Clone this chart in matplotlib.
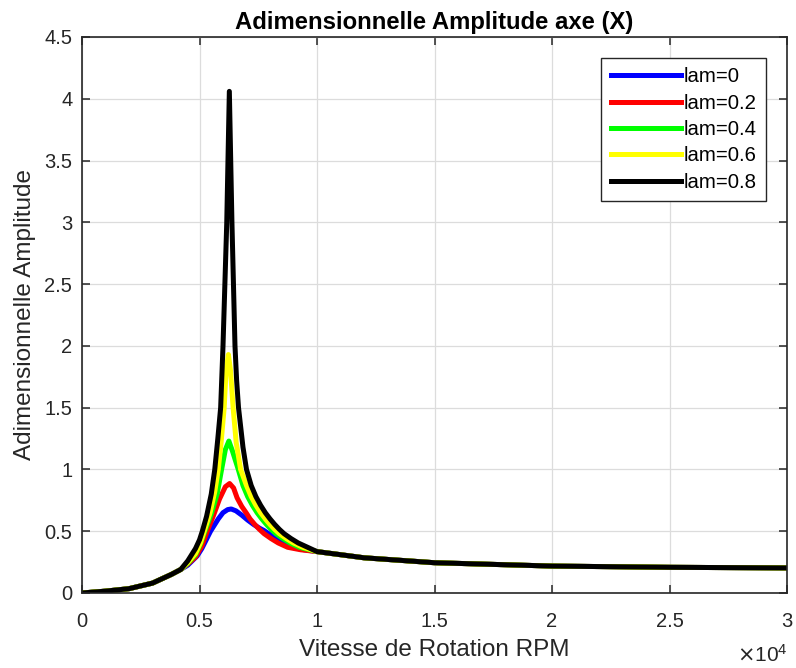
import matplotlib
matplotlib.use("Agg")
import matplotlib.pyplot as plt
from matplotlib.ticker import FuncFormatter, MultipleLocator

# shared low-speed part (all curves overlap here)
rpm_left = [0, 1000, 2000, 3000, 3800, 4200]
amp_left = [0.0, 0.015, 0.035, 0.08, 0.15, 0.19]

# shared high-speed tail
rpm_tail = [10000, 12000, 15000, 20000, 25000, 30000]
amp_tail = [0.335, 0.285, 0.245, 0.218, 0.208, 0.203]

# resonance region, one pair per lam value
rpm_lam0 = [4500, 4900, 5100, 5470, 5800, 6000, 6200, 6350, 6550, 6800, 7050, 7300, 7550, 7750, 7950, 8250,
            8550, 8950, 9450]
amp_lam0 = [0.225, 0.30, 0.36, 0.50, 0.60, 0.65, 0.675, 0.68, 0.665, 0.63, 0.59, 0.555, 0.525, 0.505, 0.48, 0.44,
            0.405, 0.37, 0.35]

rpm_lam02 = [4500, 4830, 5100, 5330, 5600, 5850, 6100, 6280, 6450, 6600, 6800, 7000, 7150, 7350, 7550, 7750,
             8050, 8350, 8750, 9300]
amp_lam02 = [0.235, 0.29, 0.38, 0.50, 0.63, 0.76, 0.86, 0.886, 0.85, 0.77, 0.70, 0.645, 0.60, 0.555, 0.515, 0.48,
             0.44, 0.405, 0.37, 0.35]

rpm_lam04 = [4500, 4830, 5050, 5230, 5500, 5750, 5940, 6100, 6250, 6400, 6650, 6850, 7050, 7250, 7450, 7650,
             7850, 8050, 8250, 8550, 8850, 9250]
amp_lam04 = [0.24, 0.31, 0.40, 0.50, 0.64, 0.80, 1.00, 1.16, 1.23, 1.15, 1.00, 0.87, 0.78, 0.71, 0.65, 0.60,
             0.555, 0.515, 0.48, 0.44, 0.405, 0.37]

rpm_lam06 = [4500, 4830, 5050, 5200, 5450, 5650, 5800, 5920, 6050, 6130, 6230, 6320, 6430, 6560, 6750, 7000,
             7200, 7400, 7600, 7800, 8000, 8200, 8400, 8700, 9000, 9400]
amp_lam06 = [0.245, 0.32, 0.41, 0.50, 0.65, 0.82, 1.00, 1.22, 1.50, 1.80, 1.93, 1.80, 1.50, 1.22, 1.00, 0.87,
             0.78, 0.71, 0.65, 0.60, 0.555, 0.515, 0.48, 0.44, 0.405, 0.37]

rpm_lam08 = [4500, 4830, 5000, 5120, 5300, 5500, 5650, 5780, 5900, 6000, 6160, 6270, 6380, 6510, 6580, 6660,
             6850, 7000, 7200, 7400, 7600, 7800, 8000, 8200, 8400, 8600, 8900, 9200, 9600]
amp_lam08 = [0.26, 0.36, 0.43, 0.50, 0.62, 0.80, 1.00, 1.25, 1.50, 2.00, 3.00, 4.06, 3.00, 2.00, 1.72, 1.50,
             1.18, 1.00, 0.87, 0.78, 0.71, 0.65, 0.60, 0.555, 0.515, 0.48, 0.44, 0.405, 0.37]

labels = ["lam=0", "lam=0.2", "lam=0.4", "lam=0.6", "lam=0.8"]
colors = ["#0000FF", "#FF0000", "#00FF00", "#FFFF00", "#000000"]

x_ticks = [0, 5000, 10000, 15000, 20000, 25000, 30000]

plt.rcParams["font.family"] = ["Liberation Sans", "DejaVu Sans"]

fig = plt.figure(figsize=(7.96, 6.68), dpi=100)
ax = fig.add_axes([82 / 796, 1 - 593 / 668, 705 / 796, 556 / 668])

series = [
    (rpm_lam0, amp_lam0),
    (rpm_lam02, amp_lam02),
    (rpm_lam04, amp_lam04),
    (rpm_lam06, amp_lam06),
    (rpm_lam08, amp_lam08),
]
for (rpm_mid, amp_mid), lab, col in zip(series, labels, colors):
    xs = rpm_left + rpm_mid + rpm_tail
    ys = amp_left + amp_mid + amp_tail
    ax.plot(xs, ys, color=col, lw=3.6, label=lab, solid_joinstyle="round")

ax.set_xlim(0, 30000)
ax.set_ylim(0, 4.5)
ax.set_xticks(x_ticks)
ax.xaxis.set_major_formatter(FuncFormatter(lambda v, _: f"{v / 1e4:g}"))
ax.yaxis.set_major_locator(MultipleLocator(0.5))
ax.yaxis.set_major_formatter(FuncFormatter(lambda v, _: f"{v:g}"))

ax.grid(True, color="#dcdcdc", lw=0.9)
ax.set_axisbelow(True)
for sp in ax.spines.values():
    sp.set_color("#262626")
    sp.set_linewidth(1.2)
ax.tick_params(direction="in", top=True, right=True, length=5.5, width=1.1,
               colors="#262626", labelsize=14.5)
ax.tick_params(axis="x", pad=13.5)
ax.tick_params(axis="y", pad=7)

ax.set_title("Adimensionnelle Amplitude axe (X)", fontsize=17.2, fontweight="bold", pad=6)
ax.set_xlabel("Vitesse de Rotation RPM", fontsize=17.5, color="#262626", labelpad=6)
ax.set_ylabel("Adimensionnelle Amplitude", fontsize=17.5, color="#262626", labelpad=6)

fig.text(762 / 796, 1 - 655 / 668, r"$\times\mathdefault{10^{4}}$", fontsize=15,
         color="#262626", ha="center", va="center")

leg = ax.legend(loc="upper right", bbox_to_anchor=(0.9698, 0.962), borderaxespad=0,
                fontsize=14.7, handlelength=3.45, handletextpad=0.12, labelspacing=0.36,
                borderpad=0.45, fancybox=False, framealpha=1)
leg.get_frame().set_edgecolor("#262626")
leg.get_frame().set_linewidth(1.0)

fig.savefig("out.png", dpi=100)
